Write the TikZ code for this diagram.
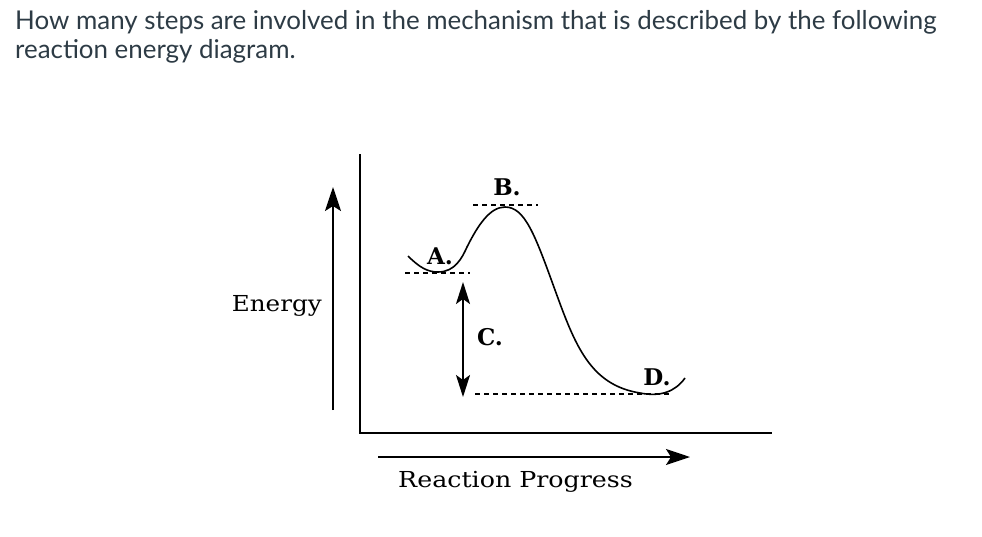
\documentclass[tikz,border=0pt]{standalone}
\usepackage{fontspec}
\setmainfont{Lato}
\newfontfamily\diagfont{DejaVu Serif}
\usetikzlibrary{arrows.meta}
\definecolor{titlegray}{HTML}{2D3B45}
\tikzset{
  axis/.style={line width=2pt},
  bigarrow/.style={line width=2pt,-{Stealth[length=24pt,width=16pt,inset=5pt]}},
  curve/.style={line width=1.6pt},
  level/.style={line width=1.5pt,dash pattern=on 5pt off 4pt},
  tag/.style={font=\diagfont\bfseries\fontsize{23}{23}\selectfont,inner sep=0pt},
  axislabel/.style={font=\diagfont\fontsize{22}{22}\selectfont,inner sep=0pt},
  titletext/.style={font=\fontsize{25.9}{30}\selectfont,text=titlegray,inner sep=0pt,anchor=base west}
}
\begin{document}
\begin{tikzpicture}[x=1pt,y=-1pt]
\useasboundingbox (0,0) rectangle (982,536);
\node[titletext] (t1) at (15,29) {How many steps are involved in the mechanism that is described by the following};
\node[titletext] (t2) at (15,58) {reaction energy diagram.};
% axes
\coordinate (ytop) at (360,154);
\coordinate (origin) at (360,433);
\coordinate (xend) at (772,433);
\draw[axis] (ytop) -- (origin) -- (xend);
% energy arrow
\coordinate (eb) at (333,410);
\coordinate (et) at (333,187);
\draw[bigarrow] (eb) -- (et);
\node[axislabel,anchor=base east,xscale=1.12] (energy) at (322,311) {Energy};
% progress arrow
\coordinate (pb) at (378,457);
\coordinate (pt) at (690,457);
\draw[bigarrow] (pb) -- (pt);
\node[axislabel,anchor=base west,xscale=1.15] (progress) at (398,487) {Reaction Progress};
% levels
\coordinate (la1) at (405,273); \coordinate (la2) at (470,273);
\coordinate (lb1) at (473,205); \coordinate (lb2) at (538,205);
\coordinate (ld1) at (475,394); \coordinate (ld2) at (672,394);
\draw[level] (la1) -- (la2);
\draw[level] (lb1) -- (lb2);
\draw[level] (ld1) -- (ld2);
% curve
\coordinate (c0) at (408,256);
\coordinate (cA) at (438,272);
\coordinate (cB) at (505,207);
\coordinate (cD) at (640,393);
\coordinate (c9) at (685,378);
\draw[curve] (c0) .. controls (420,268) and (428,272) .. (cA)
  .. controls (455,272) and (462,258) .. (467,247)
  .. controls (478,225) and (490,207) .. (cB)
  .. controls (525,207) and (535,235) .. (555,290)
  .. controls (575,345) and (590,385) .. (cD)
  .. controls (660,397) and (675,392) .. (c9);
% C arrow
\coordinate (ct) at (463,282);
\coordinate (cb) at (463,397);
\draw[line width=2pt,{Stealth[length=22pt,width=14pt,inset=5pt]}-{Stealth[length=22pt,width=14pt,inset=5pt]}] (ct) -- (cb);
% labels
\node[tag] (A) at (440,256) {A.};
\node[tag] (B) at (507,187) {B.};
\node[tag] (C) at (490,337) {C.};
\node[tag] (D) at (657,377) {D.};
\end{tikzpicture}
\end{document}
